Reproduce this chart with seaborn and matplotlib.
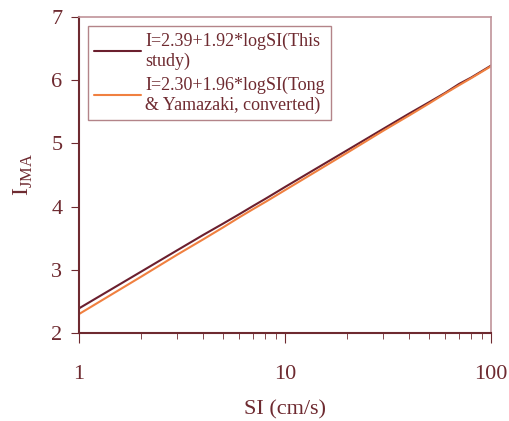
import pandas as pd
import matplotlib.pyplot as plt
import seaborn as sns

si = [1, 2, 3, 4, 5, 6, 7, 8, 9, 10, 20, 30, 40, 50, 60, 70, 80, 90, 100]
i_this = [2.39, 2.97, 3.31, 3.55, 3.73, 3.88, 4.01, 4.12, 4.22, 4.31,
          4.89, 5.23, 5.47, 5.65, 5.80, 5.94, 6.04, 6.14, 6.23]
i_tong = [2.30, 2.89, 3.24, 3.48, 3.67, 3.83, 3.96, 4.07, 4.17, 4.26,
          4.85, 5.20, 5.44, 5.63, 5.79, 5.92, 6.03, 6.13, 6.22]
labels = ['I=2.39+1.92*logSI(This\nstudy)',
          'I=2.30+1.96*logSI(Tong\n& Yamazaki, converted)']

df = pd.DataFrame({
    'SI': si * 2,
    'I': i_this + i_tong,
    'model': [labels[0]] * len(si) + [labels[1]] * len(si),
})

sns.set_style('ticks')
maroon = '#6E2A30'
plt.rcParams['font.family'] = ['Liberation Serif', 'DejaVu Serif']
plt.rcParams['mathtext.fontset'] = 'custom'
plt.rcParams['mathtext.rm'] = 'Liberation Serif'
plt.rcParams['text.color'] = maroon
plt.rcParams['axes.labelcolor'] = maroon
plt.rcParams['xtick.color'] = maroon
plt.rcParams['ytick.color'] = maroon

fig = plt.figure(figsize=(5.10, 4.21), dpi=100)
ax = fig.add_axes([0.155, 0.209, 0.808, 0.751])
sns.lineplot(data=df, x='SI', y='I', hue='model',
             palette=['#6B1F2E', '#F08040'], linewidth=1.5, ax=ax)

ax.set_xscale('log')
ax.set_xlim(1, 100)
ax.set_ylim(2, 7)
ax.set_xticks([1, 10, 100])
ax.set_xticklabels(['1', '10', '100'])
ax.set_yticks([2, 3, 4, 5, 6, 7])
ax.tick_params(axis='both', direction='out', labelsize=16)
ax.tick_params(axis='x', which='major', length=7, pad=16)
ax.tick_params(axis='x', which='minor', length=4.5, color=maroon)
ax.tick_params(axis='y', length=6, pad=6)
ax.set_xlabel('SI (cm/s)', fontsize=16, labelpad=12)
ax.set_ylabel(r'I$_{\mathrm{JMA}}$', fontsize=17, labelpad=12)

for s in ['left', 'bottom']:
    ax.spines[s].set_color(maroon)
    ax.spines[s].set_linewidth(1.5)
for s in ['top', 'right']:
    ax.spines[s].set_visible(True)
    ax.spines[s].set_color('#C0939A')
    ax.spines[s].set_linewidth(1.2)

leg = ax.legend(loc='upper left', fontsize=13, frameon=True, fancybox=False,
                edgecolor='#A0666C', handlelength=2.6, handletextpad=0.2,
                borderaxespad=0.0, labelspacing=0.35, borderpad=0.35,
                bbox_to_anchor=(0.022, 0.97))
leg.get_frame().set_linewidth(1.0)
for t in leg.get_texts():
    t.set_color(maroon)

plt.savefig('out.png', dpi=100)
plt.close()
